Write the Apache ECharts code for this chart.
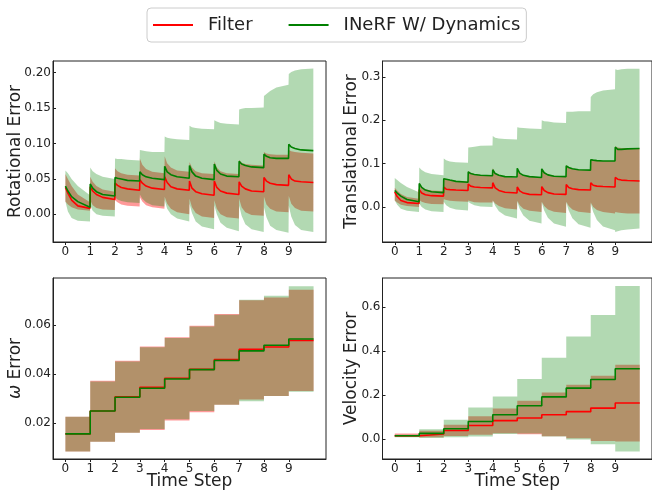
<!DOCTYPE html>
<html><head><meta charset="utf-8">
<script src="https://cdn.jsdelivr.net/npm/echarts@6/dist/echarts.min.js"></script>
<style>html,body{margin:0;padding:0;background:#fff}#c{width:652px;height:491px}</style>
</head><body><div id="c"></div>
<script>
// ---------- data ----------
const steps = [0,1,2,3,4,5,6,7,8,9];
const stepOffsets = [0, 0.1, 0.25, 0.5, 0.99];   // sample positions inside each time step
const legendNames = ['Filter', 'INeRF W/ Dynamics'];

// Rotational error (per step: samples at stepOffsets)
const rotFilterMean = [[.038,.030,.020,.012,.0085],[.039,.033,.028,.024,.021],[.044,.041,.038,.036,.034],[.049,.044,.040,.037,.035],[.053,.045,.039,.036,.034],[.047,.037,.032,.029,.027],[.047,.038,.033,.030,.028],[.046,.040,.036,.033,.032],[.052,.047,.044,.042,.041],[.056,.050,.047,.046,.045]];
const rotFilterLo = [[.018,.014,.010,.007,.005],[.020,.013,.009,.007,.006],[.020,.017,.014,.012,.011],[.024,.018,.013,.010,.008],[.025,.015,.008,.003,.000],[.022,.010,.002,-.003,-.005],[.020,.008,.000,-.004,-.006],[.022,.010,.003,-.001,-.002],[.025,.014,.008,.004,.003],[.026,.015,.009,.005,.004]];
const rotFilterHi = [[.057,.050,.040,.028,.017],[.053,.046,.040,.035,.032],[.065,.061,.058,.056,.055],[.079,.070,.064,.060,.058],[.082,.072,.066,.062,.060],[.074,.066,.061,.058,.057],[.075,.066,.061,.058,.057],[.077,.073,.071,.070,.069],[.088,.086,.085,.084,.084],[.091,.089,.088,.087,.086]];
const rotDynMean = [[.040,.033,.025,.018,.010],[.043,.037,.032,.028,.026],[.052,.051,.050,.048,.047],[.060,.056,.053,.051,.049],[.068,.060,.056,.053,.051],[.069,.060,.054,.051,.049],[.071,.062,.057,.054,.053],[.075,.071,.069,.067,.066],[.085,.082,.080,.079,.079],[.099,.095,.093,.091,.090]];
const rotDynLo = [[.018,.004,-.005,-.009,-.010],[.013,.005,.000,-.002,-.003],[.024,.021,.019,.017,.016],[.028,.022,.017,.013,.011],[.020,.008,.000,-.006,-.010],[.015,.002,-.010,-.017,-.021],[.013,.000,-.012,-.019,-.024],[.012,-.002,-.014,-.021,-.025],[.010,-.004,-.016,-.022,-.026],[.012,-.003,-.015,-.022,-.025]];
const rotDynHi = [[.062,.058,.050,.040,.027],[.066,.061,.057,.053,.050],[.079,.078,.078,.077,.076],[.091,.090,.089,.088,.088],[.110,.108,.107,.106,.105],[.125,.123,.122,.121,.120],[.133,.131,.129,.128,.127],[.148,.149,.150,.150,.151],[.167,.170,.174,.179,.183],[.198,.201,.203,.205,.206]];

// Translational error
const trFilterMean = [[.035,.024,.015,.010,.008],[.040,.032,.028,.026,.025],[.046,.041,.040,.039,.038],[.053,.048,.046,.045,.044],[.056,.044,.038,.034,.032],[.046,.037,.032,.029,.028],[.047,.038,.033,.030,.029],[.052,.045,.042,.040,.039],[.056,.050,.048,.047,.046],[.068,.064,.062,.061,.060]];
const trFilterLo = [[.015,.010,.005,.002,.000],[.016,.012,.009,.007,.006],[.018,.016,.014,.013,.012],[.015,.013,.011,.010,.010],[.015,.008,.002,-.003,-.006],[.014,.004,-.004,-.009,-.012],[.012,.002,-.006,-.011,-.014],[.012,.002,-.006,-.011,-.014],[.010,.000,-.007,-.012,-.015],[-.012,-.013,-.014,-.015,-.015]];
const trFilterHi = [[.044,.038,.030,.023,.019],[.052,.045,.041,.038,.037],[.066,.064,.062,.060,.059],[.083,.079,.076,.074,.073],[.090,.079,.073,.069,.067],[.088,.078,.073,.070,.068],[.089,.080,.075,.072,.071],[.096,.091,.088,.086,.085],[.110,.108,.107,.106,.106],[.140,.137,.136,.136,.136]];
const trDynMean = [[.038,.032,.025,.017,.012],[.054,.045,.039,.035,.033],[.065,.064,.062,.059,.057],[.081,.077,.075,.073,.072],[.086,.077,.073,.070,.069],[.089,.078,.073,.070,.068],[.088,.079,.074,.071,.070],[.095,.091,.088,.086,.085],[.109,.108,.107,.106,.106],[.138,.133,.133,.134,.135]];
const trDynLo = [[.015,.005,-.004,-.009,-.012],[.008,.000,-.006,-.010,-.012],[.012,.004,-.002,-.006,-.008],[.012,.008,.004,.001,.000],[.015,.003,-.010,-.020,-.027],[.012,-.005,-.020,-.032,-.038],[.010,-.008,-.025,-.038,-.046],[.010,-.008,-.026,-.040,-.048],[.008,-.012,-.030,-.045,-.054],[-.058,-.056,-.054,-.052,-.050]];
const trDynHi = [[.067,.062,.055,.046,.034],[.091,.085,.080,.076,.073],[.112,.108,.105,.103,.102],[.137,.138,.139,.141,.142],[.164,.160,.158,.157,.156],[.184,.183,.182,.181,.180],[.200,.198,.197,.195,.194],[.220,.220,.220,.221,.221],[.254,.260,.265,.269,.272],[.318,.316,.318,.319,.319]];

// omega error (one value per step)
const omFilterMean = [.0157,.0250,.0308,.0346,.0383,.0419,.0459,.0500,.0510,.0536];
const omFilterLo   = [.0085,.0125,.0162,.0173,.0211,.0245,.0275,.0297,.0311,.0331];
const omFilterHi   = [.0227,.0373,.0454,.0512,.0549,.0596,.0644,.0700,.0711,.0742];
const omDynMean    = [.0157,.0250,.0306,.0342,.0380,.0418,.0455,.0494,.0517,.0542];
const omDynLo      = [.0085,.0125,.0162,.0177,.0216,.0250,.0275,.0290,.0311,.0328];
const omDynHi      = [.0227,.0370,.0451,.0509,.0546,.0593,.0641,.0702,.0718,.0756];

// velocity error (one value per step)
const velFilterMean = [.015,.023,.039,.062,.084,.096,.111,.125,.141,.164];
const velFilterLo   = [.010,.009,.014,.020,.027,.022,.013,.004,-.009,-.011];
const velFilterHi   = [.025,.038,.065,.104,.139,.175,.212,.247,.288,.338];
const velDynMean    = [.015,.026,.047,.080,.111,.152,.192,.232,.271,.320];
const velDynLo      = [.008,.005,.009,.012,.023,.025,.012,-.002,-.023,-.056];
const velDynHi      = [.020,.045,.088,.144,.194,.273,.370,.467,.565,.697];

// tick labels
const rotTicks = [0, 0.05, 0.10, 0.15, 0.20];
const trTicks = [0, 0.1, 0.2, 0.3];
const omTicks = [0.02, 0.04, 0.06];
const velTicks = [0, 0.2, 0.4, 0.6];

// ---------- build ----------
const RED = '#ff0000', GREEN = '#008000';
const RED_FILL = 'rgba(255,0,0,0.4)', GREEN_FILL = 'rgba(0,128,0,0.3)';
const FONT = 'DejaVu Sans';

function contPts(rows){ const p=[]; rows.forEach((r,k)=>r.forEach((v,j)=>p.push([steps[k]+stepOffsets[j], v]))); return p; }
function stepPts(vals){ const p = vals.map((v,k)=>[steps[k], v]); p.push([steps.length, vals[vals.length-1]]); return p; }
// corners of a post-style step path (for the filled bands)
function stepCorners(pts){ const out=[]; pts.forEach((p,i)=>{ out.push(p); if(i<pts.length-1) out.push([pts[i+1][0], p[1]]); }); return out; }

const series = [];
function band(idx, lo, hi, fill, step){
  if (step){ lo = stepCorners(lo); hi = stepCorners(hi); }
  series.push({type:'custom', xAxisIndex:idx, yAxisIndex:idx, silent:true, clip:true, z:1,
    data:[[hi[0][0], hi[0][1]]],
    renderItem:(params, api)=>{
      const pts = hi.map(p=>api.coord(p)).concat(lo.slice().reverse().map(p=>api.coord(p)));
      return {type:'polygon', shape:{points:pts}, style:{fill:fill, stroke:null}};
    }});
}
function line(idx, pts, name, color, step){
  series.push({type:'line', name, xAxisIndex:idx, yAxisIndex:idx, data:pts, symbol:'none', color, step: step||false, lineStyle:{width:1.6, color}, z:5});
}
function panel(idx, fMean, fLo, fHi, dMean, dLo, dHi, conv, step){
  band(idx, conv(fLo), conv(fHi), RED_FILL, step);
  band(idx, conv(dLo), conv(dHi), GREEN_FILL, step);
  line(idx, conv(fMean), legendNames[0], RED, step);
  line(idx, conv(dMean), legendNames[1], GREEN, step);
}
panel(0, rotFilterMean, rotFilterLo, rotFilterHi, rotDynMean, rotDynLo, rotDynHi, contPts);
panel(1, trFilterMean, trFilterLo, trFilterHi, trDynMean, trDynLo, trDynHi, contPts);
panel(2, omFilterMean, omFilterLo, omFilterHi, omDynMean, omDynLo, omDynHi, stepPts, 'end');
panel(3, velFilterMean, velFilterLo, velFilterHi, velDynMean, velDynLo, velDynHi, stepPts, 'end');

const grids = [
  {left:53, top:61, width:273, height:181},
  {left:382.5, top:61, width:273.5, height:181},
  {left:53, top:278, width:273, height:181},
  {left:382.5, top:278, width:273.5, height:181}
].map(g=>Object.assign({show:true, borderColor:'#222', borderWidth:1, backgroundColor:'transparent'}, g));

function xAx(idx, title){
  return {gridIndex:idx, type:'value', min:-0.5, max:10.5,
    splitLine:{show:false}, axisLine:{show:true, onZero:false, lineStyle:{color:'#222'}},
    axisTick:{show:true, length:3, customValues:steps, lineStyle:{color:'#222'}},
    axisLabel:{customValues:steps, fontSize:12, fontFamily:FONT, color:'#222', margin:4},
    name:title, nameLocation:'middle', nameGap:14, nameMoveOverlap:false,
    nameTextStyle:{fontSize:17, fontFamily:FONT, color:'#222', verticalAlign:'top'}};
}
function yAx(idx, min, max, ticks, dec, title, gap){
  return {gridIndex:idx, type:'value', min, max,
    splitLine:{show:false}, axisLine:{show:true, onZero:false, lineStyle:{color:'#222'}},
    axisTick:{show:true, inside:true, length:3, customValues:ticks, lineStyle:{color:'#222'}},
    axisLabel:{customValues:ticks, fontSize:12, fontFamily:FONT, color:'#222', margin:2, formatter:v=>Number(v).toFixed(dec)},
    name:title, nameLocation:'middle', nameGap:gap, nameMoveOverlap:false,
    nameTextStyle:{fontSize:17, fontFamily:FONT, color:'#222', rich:{i:{fontSize:17, fontFamily:FONT, fontStyle:'italic', color:'#222'}}}};
}

const option = {
  animation:false,
  backgroundColor:'#fff',
  legend:{data:legendNames, left:147, top:8, padding:[8,6,8,6], itemWidth:40, itemHeight:2, icon:'rect', itemGap:36,
    borderColor:'#cccccc', borderWidth:1, borderRadius:4, backgroundColor:'#fff',
    textStyle:{fontFamily:FONT, fontSize:18, color:'#222', padding:[0,0,0,10]}},
  grid:grids,
  xAxis:[xAx(0,''), xAx(1,''), xAx(2,'Time Step'), xAx(3,'Time Step')],
  yAxis:[
    yAx(0, -0.039, 0.2165, rotTicks, 2, 'Rotational Error', 29),
    yAx(1, -0.081, 0.337, trTicks, 1, 'Translational Error', 22.5),
    yAx(2, 0.0055, 0.079, omTicks, 2, '{i|ω} Error', 28.5),
    yAx(3, -0.0905, 0.733, velTicks, 1, 'Velocity Error', 22.5)
  ],
  series
};
const chart = echarts.init(document.getElementById('c'), null, {renderer:'canvas'});
chart.setOption(option);
</script></body></html>
